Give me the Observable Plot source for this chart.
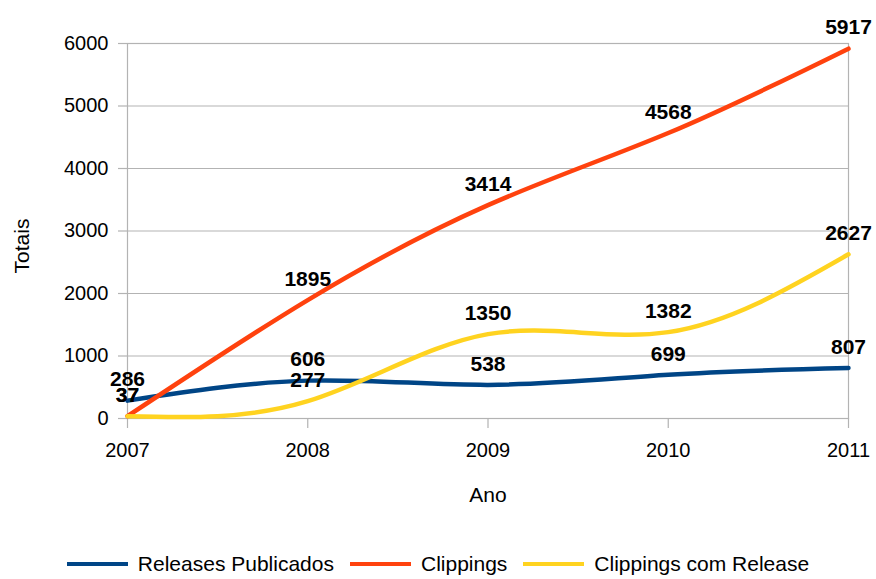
<!DOCTYPE html>
<html>
<head>
<meta charset="utf-8">
<script src="https://cdn.jsdelivr.net/npm/d3@7"></script>
<script src="https://cdn.jsdelivr.net/npm/@observablehq/plot@0.6"></script>
<style>
  html, body { margin: 0; padding: 0; background: #fff; }
  body { width: 876px; font-family: "Liberation Sans", Arial, sans-serif; }
  #legend { display: flex; justify-content: center; align-items: center; height: 28px; padding-top: 2px; font-size: 21px; line-height: 24px; color: #000; }
  #legend .item { display: flex; align-items: center; margin: 0 8px; }
  #legend .sw { width: 61px; height: 4px; margin-right: 10px; }
</style>
</head>
<body>
<div id="chart"></div>
<div id="legend"></div>
<script>
const years = [2007, 2008, 2009, 2010, 2011];
const seriesNames = ["Releases Publicados", "Clippings", "Clippings com Release"];
const releases = [286, 606, 538, 699, 807];
const clippings = [37, 1895, 3414, 4568, 5917];
const clippingsRelease = [37, 277, 1350, 1382, 2627];
const yTicks = [0, 1000, 2000, 3000, 4000, 5000, 6000];
const colors = ["#004586", "#ff420e", "#ffd320"];

const seriesValues = [releases, clippings, clippingsRelease];
const data = seriesNames.flatMap((s, i) =>
  years.map((y, j) => ({series: s, year: y, value: seriesValues[i][j]})));

const plot = Plot.plot({
  width: 876,
  height: 548,
  marginLeft: 127,
  marginRight: 28,
  marginTop: 43,
  marginBottom: 130,
  style: {fontFamily: "Liberation Sans, Arial, sans-serif", fontSize: "20px", color: "#000", background: "#fff", overflow: "visible"},
  x: {domain: [2007, 2011]},
  y: {domain: [0, 6000]},
  color: {domain: seriesNames, range: colors},
  marks: [
    Plot.gridY(yTicks, {stroke: "#b3b3b3", strokeOpacity: 1, strokeWidth: 1.2}),
    Plot.frame({stroke: "#b3b3b3", strokeWidth: 1.2}),
    Plot.axisY({ticks: yTicks, tickFormat: d => String(d), tickSize: 9, tickPadding: 10, stroke: "#b3b3b3", strokeWidth: 1.2, label: null, fontSize: 20, fill: "#000"}),
    Plot.axisX({ticks: years, tickFormat: d => String(d), tickSize: 10, tickPadding: 14, stroke: "#b3b3b3", strokeWidth: 1.2, label: null, fontSize: 20, fill: "#000"}),
    Plot.text(["Totais"], {frameAnchor: "left", textAnchor: "middle", lineAnchor: "middle", dx: -105, dy: 15, rotate: -90, fontSize: 21, fill: "#000"}),
    Plot.text(["Ano"], {frameAnchor: "bottom", textAnchor: "middle", lineAnchor: "middle", dy: 77, fontSize: 21, fill: "#000"}),
    Plot.line(data, {x: "year", y: "value", z: "series", stroke: "series", strokeWidth: 4.5, curve: "natural"}),
    Plot.text(data, {x: "year", y: "value", text: d => String(d.value), dy: -21, fontSize: 21, fontWeight: "bold", fill: "#000"})
  ]
});
document.getElementById("chart").appendChild(plot);

const legend = document.getElementById("legend");
seriesNames.forEach((s, i) => {
  const item = document.createElement("div");
  item.className = "item";
  const sw = document.createElement("div");
  sw.className = "sw";
  sw.style.background = colors[i];
  const t = document.createElement("span");
  t.textContent = s;
  item.appendChild(sw);
  item.appendChild(t);
  legend.appendChild(item);
});
</script>
</body>
</html>
